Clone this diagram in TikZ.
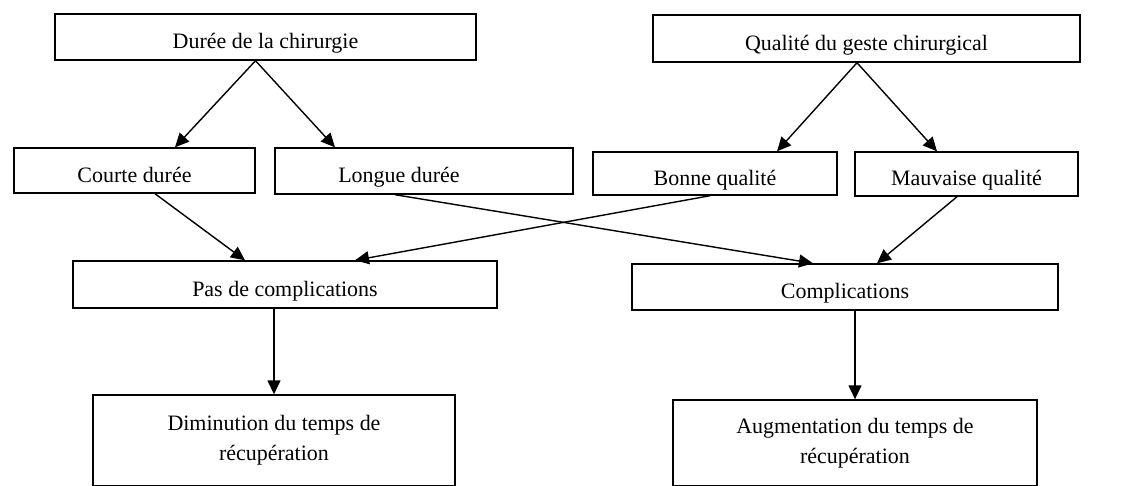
\documentclass[tikz,border=0pt]{standalone}
\usepackage{fontspec}
\setmainfont{Liberation Serif}
\usetikzlibrary{arrows.meta}

\begin{document}
\begin{tikzpicture}[x=0.2mm, y=-0.2mm,
            cadre/.style={draw, line width=0.8pt, inner sep=0pt, align=center,
                font=\fontsize{12.5}{17}\selectfont},
            boite/.style={cadre, text height=4.6mm, text depth=0pt},
            fleche/.style={-{Triangle[length=2.8mm,width=2.6mm]}, line width=0.8pt}]
            \useasboundingbox (0,0) rectangle (1142,485);
            % causes
            \node[boite, minimum width=84.2mm, minimum height=9.2mm] (duree) at (265.5,37) {Durée de la chirurgie};
            \node[boite, minimum width=85.4mm, minimum height=9.4mm] (qualite) at (866.5,38.5) {Qualité du geste chirurgical};
            \node[boite, minimum width=48.2mm, minimum height=9mm] (courte) at (134.5,170.5) {Courte durée};
            \node[boite, minimum width=59.6mm, minimum height=9.2mm] (longue) at (424,171) {Longue durée\hspace*{10mm}};
            \node[boite, minimum width=48.8mm, minimum height=8.6mm] (bonne) at (715,173.5) {Bonne qualité};
            \node[boite, minimum width=44.6mm, minimum height=8.8mm] (mauvaise) at (966.5,174) {Mauvaise qualité};
            % effets
            \node[boite, minimum width=84.8mm, minimum height=9.4mm] (pascompl) at (285,284.5) {Pas de complications};
            \node[boite, minimum width=85.2mm, minimum height=9.2mm] (compl) at (845,287) {Complications};
            \node[cadre, minimum width=72.4mm, minimum height=18.2mm] (diminution) at (274,440.5) {Diminution du temps de\\récupération};
            \node[cadre, minimum width=72.8mm, minimum height=17.2mm] (augmentation) at (855,443) {Augmentation du temps de\\récupération};
            % fleches
            \path[fleche] ([xshift=-2mm]duree.south) edge ([xshift=8.1mm]courte.north);
            \path[fleche] ([xshift=-2mm]duree.south) edge ([xshift=-17.8mm]longue.north);
            \path[fleche] ([xshift=-1.9mm]qualite.south) edge ([xshift=12.4mm]bonne.north);
            \path[fleche] ([xshift=-1.9mm]qualite.south) edge ([xshift=-5.9mm]mauvaise.north);
            \path[fleche] ([xshift=4.1mm]courte.south) edge ([xshift=-8mm]pascompl.north);
            \path[fleche] ([xshift=-1mm]bonne.south) edge ([xshift=14mm]pascompl.north);
            \path[fleche] ([xshift=-5.8mm]longue.south) edge ([xshift=-6.4mm]compl.north);
            \path[fleche] ([xshift=-1.9mm]mauvaise.south) edge ([xshift=6.4mm]compl.north);
            \path[fleche] (diminution.north |- pascompl.south) edge (diminution.north);
            \path[fleche] (augmentation.north |- compl.south) edge (augmentation.north);
        \end{tikzpicture}
\end{document}
